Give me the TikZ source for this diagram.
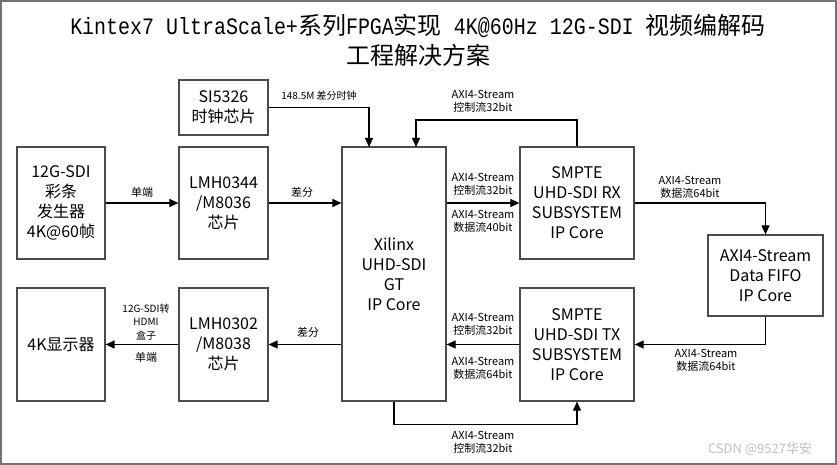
\documentclass[tikz,border=0pt]{standalone}
\usepackage{fontspec}
\setmainfont{Noto Sans CJK SC}
\newfontfamily\tmono[FakeStretch=0.85]{Liberation Mono}
\usetikzlibrary{arrows.meta,calc}
\begin{document}
\begin{tikzpicture}[x=1pt,y=-1pt,
  blk/.style={draw=black!70,line width=1.2pt,fill=white,align=center,inner sep=0pt,
    font=\fontsize{16}{20}\selectfont},
  arr/.style={draw=black,line width=1.1pt,-{Triangle[length=9pt,width=8pt]}},
  lbl/.style={align=center,inner sep=0pt,font=\fontsize{11}{13}\selectfont},
  slbl/.style={align=center,inner sep=0pt,font=\fontsize{10}{13.5}\selectfont},
  tmo/.style={}]
\useasboundingbox (0,0) rectangle (837,465);
\draw[draw=black!55,line width=1.5pt] (1,1) rectangle (836,464);
% title
\node[inner sep=0pt,font=\fontsize{24}{30}\selectfont] (title1) at (418,26)
  {{\fontsize{23.5}{30}\tmono Kintex7 UltraScale+}系列{\fontsize{23.5}{30}\tmono FPGA}实现{\fontsize{23.5}{30}\tmono{} 4K@60Hz 12G-SDI }视频编解码};
\node[inner sep=0pt,font=\fontsize{24}{30}\selectfont] (title2) at (418,55) {工程解决方案};
% boxes
\node[blk,minimum width=89pt,minimum height=55pt] (si) at (223.5,107.5) {SI5326\\时钟芯片};
\node[blk,minimum width=88pt,minimum height=112pt] (gen) at (61,203) {12G-SDI\\彩条\\发生器\\4K@60帧};
\node[blk,minimum width=89pt,minimum height=112pt] (rx1) at (223.5,203) {LMH0344\\/M8036\\芯片};
\node[blk,minimum width=104pt,minimum height=254pt] (gt) at (394,274) {Xilinx\\UHD-SDI\\GT\\IP Core};
\node[blk,minimum width=114pt,minimum height=112pt] (rxss) at (577,203) {SMPTE\\UHD-SDI RX\\SUBSYSTEM\\IP Core};
\node[blk,minimum width=115pt,minimum height=81pt] (fifo) at (765.5,275.5) {AXI4-Stream\\Data FIFO\\IP Core};
\node[blk,minimum width=114pt,minimum height=113pt] (txss) at (577,344.5) {SMPTE\\UHD-SDI TX\\SUBSYSTEM\\IP Core};
\node[blk,minimum width=88pt,minimum height=113pt] (disp) at (61,344.5) {4K显示器};
\node[blk,minimum width=89pt,minimum height=113pt] (tx1) at (223.5,344.5) {LMH0302\\/M8038\\芯片};
% helper coordinates
\coordinate (gtclk) at (369,147);
\coordinate (gtctl) at (416,147);
% connectors
\draw[arr] (gen.east) -- (rx1.west);
\draw[arr] (rx1.east) -- (rx1.east -| gt.west);
\draw[arr] (si.east) -| (gtclk);
\draw[arr] (rxss.north) |- ($(gtctl)+(0,-27)$) -- (gtctl);
\draw[arr] (gt.east |- rxss.west) -- (rxss.west);
\draw[arr] (rxss.east) -| (fifo.north);
\draw[arr] (fifo.south) |- (txss.east);
\draw[arr] (txss.west) -- (txss.west -| gt.east);
\draw[arr] (gt.south) -- ++(0,23) -| (txss.south);
\draw[arr] (gt.west |- tx1.east) -- (tx1.east);
\draw[arr] (tx1.west) -- (disp.east);
% labels
\node[slbl] (lclk) at (319,96) {148.5M 差分时钟};
\node[lbl] (lloop) at (483,101) {AXI4-Stream\\控制流32bit};
\node[lbl] (lrxc) at (483,184) {AXI4-Stream\\控制流32bit};
\node[lbl] (lrxd) at (483,221) {AXI4-Stream\\数据流40bit};
\node[lbl] (lrxo) at (690,187) {AXI4-Stream\\数据流64bit};
\node[lbl] (ltxc) at (483,324) {AXI4-Stream\\控制流32bit};
\node[lbl] (ltxd) at (483,368) {AXI4-Stream\\数据流64bit};
\node[lbl] (lfifo) at (706,360) {AXI4-Stream\\数据流64bit};
\node[lbl] (lbot) at (483,442) {AXI4-Stream\\控制流32bit};
\node[lbl] (l1) at (142,192) {单端};
\node[lbl] (l2) at (302,192) {差分};
\node[lbl] (l3) at (308,332) {差分};
\node[slbl] (l4) at (146,322) {12G-SDI转\\HDMI\\盒子};
\node[lbl] (l5) at (146,357) {单端};
\node[inner sep=0pt,text=black!25,font=\fontsize{13}{15}\selectfont] (wm) at (760,449) {CSDN @9527华安};
\end{tikzpicture}
\end{document}
